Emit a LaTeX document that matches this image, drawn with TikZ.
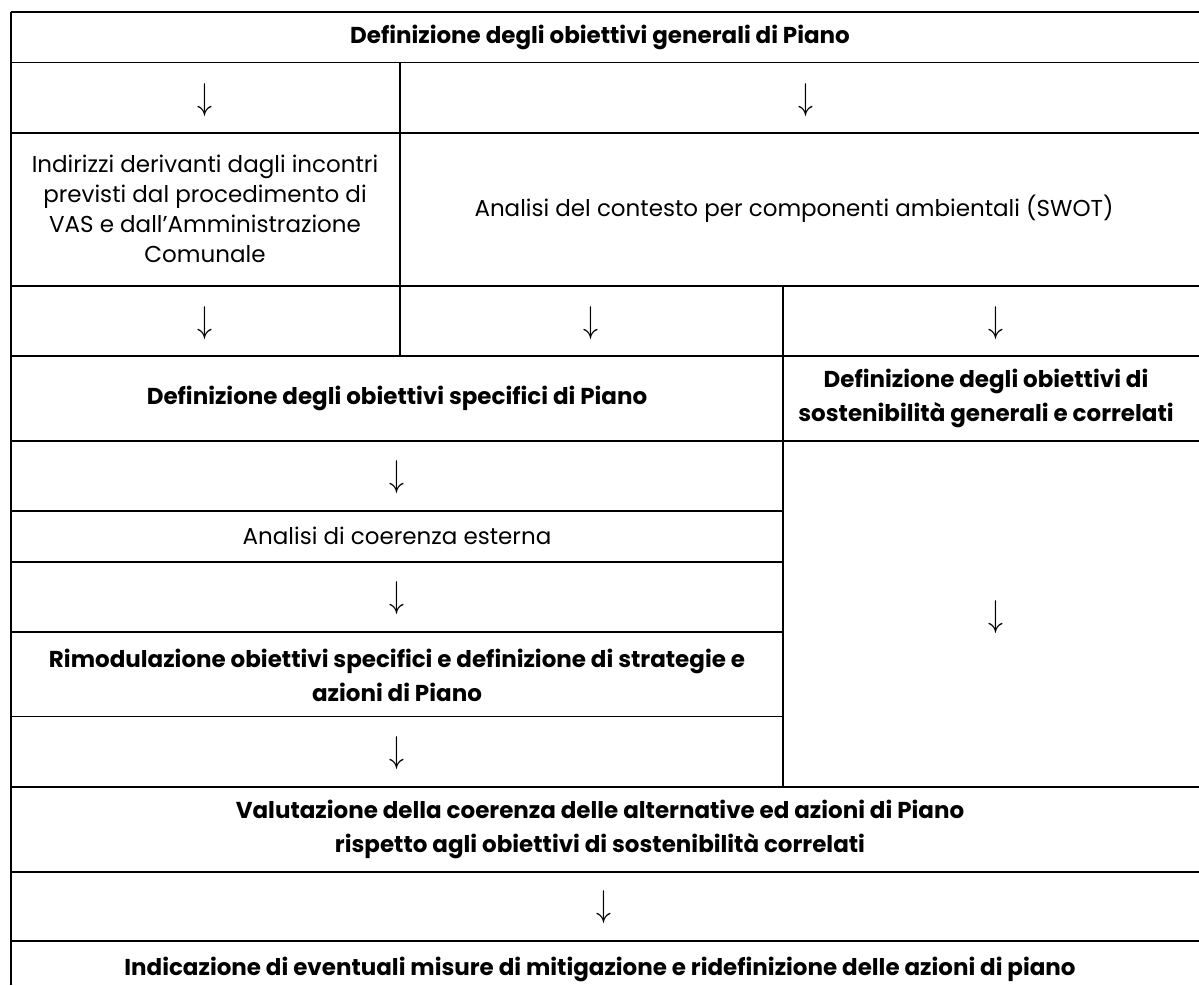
\documentclass[tikz,border=0pt]{standalone}
\usepackage{fontspec}
\setmainfont{Poppins}
\newcommand{\darr}{\scalebox{1.2}[1.5]{\fontsize{24.88}{25}\selectfont$\downarrow$}}
\begin{document}
\begin{tikzpicture}[x=1pt,y=-1pt,
  grid/.style={line width=1.9pt},
  txt/.style={font=\fontsize{23}{30}\selectfont, align=center, inner sep=0pt},
  btxt/.style={font=\fontsize{23}{34}\selectfont\bfseries, align=center, inner sep=0pt},
  arr/.style={inner sep=0pt}]
\useasboundingbox (0,0) rectangle (1199,985);
% grid lines
\foreach \yy in {12,62.5,132.7,286,355.7,440.7,786.7,871.7,941}
  \draw[grid] (11,\yy) -- (1199,\yy);
\foreach \yy in {510.7,562,632,716.5}
  \draw[grid] (11,\yy) -- (783,\yy);
\draw[grid] (11,12) -- (11,985);
\draw[grid] (400,62.5) -- (400,355.7);
\draw[grid] (783,286) -- (783,786.7);
% texts
\node[btxt] (t1) at (600,37) {Definizione degli obiettivi generali di Piano};
\node[arr] (a1) at (205,100) {\darr};
\node[arr] (a2) at (806,100) {\darr};
\node[txt] (t2) at (205,209) {Indirizzi derivanti dagli incontri\\previsti dal procedimento di\\VAS e dall’Amministrazione\\Comunale};
\node[txt] (t3) at (794,209) {Analisi del contesto per componenti ambientali (SWOT)};
\node[arr] (a3) at (205,323) {\darr};
\node[arr] (a4) at (591,323) {\darr};
\node[arr] (a5) at (996,323) {\darr};
\node[btxt] (t4) at (397,398) {Definizione degli obiettivi specifici di Piano};
\node[btxt] (t5) at (986,398) {Definizione degli obiettivi di\\sostenibilità generali e correlati};
\node[arr] (a6) at (397,477) {\darr};
\node[txt] (t6) at (397,536) {Analisi di coerenza esterna};
\node[arr] (a7) at (397,598) {\darr};
\node[arr] (a8) at (996,617) {\darr};
\node[btxt] (t7) at (397,675) {Rimodulazione obiettivi specifici e definizione di strategie e\\azioni di Piano};
\node[arr] (a9) at (397,753) {\darr};
\node[btxt] (t8) at (600,829) {Valutazione della coerenza delle alternative ed azioni di Piano\\rispetto agli obiettivi di sostenibilità correlati};
\node[arr] (a10) at (604,907) {\darr};
\node[btxt] (t9) at (600,969) {Indicazione di eventuali misure di mitigazione e ridefinizione delle azioni di piano};
\end{tikzpicture}
\end{document}
